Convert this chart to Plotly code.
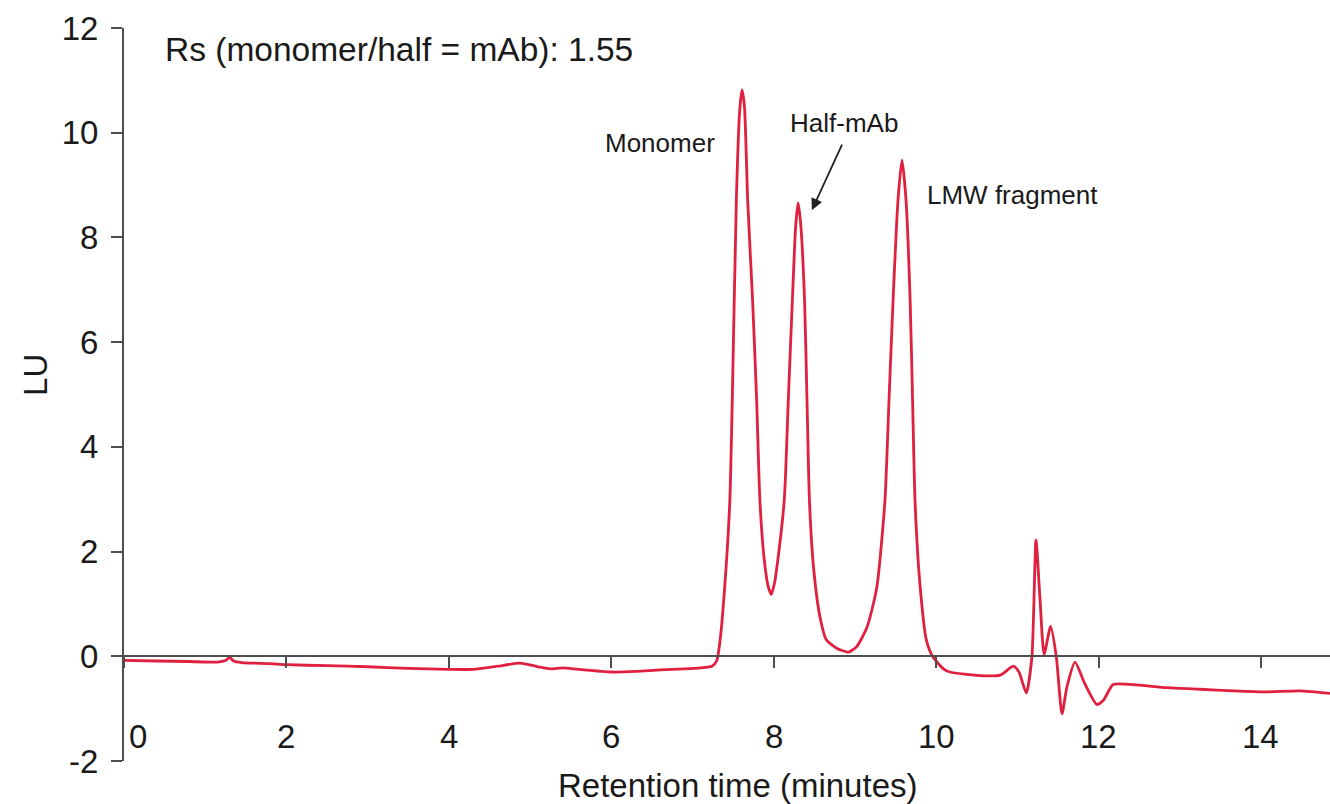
import plotly.graph_objects as go

# Chromatogram trace (retention time in minutes, signal in LU)
time_min = [0.00, 0.40, 0.80, 1.15, 1.25, 1.30, 1.35, 1.45, 1.80, 2.00, 2.50, 3.00, 3.50,
            4.00, 4.30, 4.60, 4.88, 5.10, 5.25, 5.40, 5.60, 6.00, 6.30, 6.60, 6.90, 7.10,
            7.24, 7.30, 7.34, 7.40, 7.46, 7.49, 7.54, 7.58, 7.61, 7.64, 7.68, 7.74, 7.79,
            7.83, 7.88, 7.93, 7.97, 8.01, 8.04, 8.13, 8.18, 8.23, 8.27, 8.30, 8.33, 8.38,
            8.41, 8.44, 8.49, 8.57, 8.65, 8.78, 8.92, 9.02, 9.15, 9.27, 9.37, 9.42, 9.47,
            9.53, 9.58, 9.63, 9.68, 9.71, 9.74, 9.80, 9.88, 9.96, 10.09, 10.17, 10.54,
            10.79, 10.95, 11.02, 11.11, 11.18, 11.23, 11.28, 11.33, 11.41, 11.48, 11.55,
            11.61, 11.71, 11.83, 11.98, 12.06, 12.18, 12.43, 12.84, 13.25, 13.66, 14.07,
            14.48, 14.85]
signal_lu = [-0.08, -0.09, -0.10, -0.11, -0.08, -0.02, -0.09, -0.12, -0.14, -0.16, -0.18,
             -0.20, -0.23, -0.25, -0.25, -0.19, -0.13, -0.20, -0.24, -0.22, -0.25, -0.30,
             -0.29, -0.26, -0.24, -0.22, -0.19, -0.08, 0.31, 1.39, 2.98, 4.9, 8.7, 10.4,
             10.82, 10.5, 8.7, 6.8, 4.9, 2.98, 1.9, 1.35, 1.18, 1.4, 1.71, 2.98, 4.9, 6.8,
             8.2, 8.66, 8.3, 6.8, 4.9, 2.98, 1.71, 0.75, 0.31, 0.15, 0.08, 0.18, 0.56, 1.32,
             2.98, 4.9, 6.8, 8.7, 9.48, 8.7, 6.8, 4.9, 2.98, 1.39, 0.31, -0.01, -0.24, -0.30,
             -0.37, -0.36, -0.19, -0.30, -0.70, 0.0, 2.22, 1.07, 0.04, 0.57, -0.01, -1.10,
             -0.59, -0.11, -0.52, -0.92, -0.84, -0.54, -0.54, -0.60, -0.63, -0.66, -0.68,
             -0.66, -0.71]

x_ticks = [0, 2, 4, 6, 8, 10, 12, 14]
y_ticks = [-2, 0, 2, 4, 6, 8, 10, 12]
y_tick_labels = ["-2", "0", "2", "4", "6", "8", "10", "12"]
x_range = [0, 14.85]
y_range = [-2, 12]

FONT = "Liberation Sans, Arial, sans-serif"
AXIS_COLOR = "#4d4d4d"
TEXT_COLOR = "#1a1a1a"
LINE_COLOR = "#e0203f"

fig = go.Figure()
fig.add_trace(go.Scatter(
    x=time_min, y=signal_lu, mode="lines",
    line=dict(color=LINE_COLOR, width=2.8, shape="spline", smoothing=0.6),
    hoverinfo="skip", showlegend=False,
))

x_axis_pos = (0 - y_range[0]) / (y_range[1] - y_range[0])

fig.update_layout(
    width=1330, height=804,
    margin=dict(l=124, r=0, t=28, b=43),
    paper_bgcolor="white", plot_bgcolor="white",
    font=dict(family=FONT, color=TEXT_COLOR),
    showlegend=False,
    xaxis=dict(
        range=x_range, anchor="free", position=x_axis_pos,
        showline=True, linecolor=AXIS_COLOR, linewidth=2,
        ticks="outside", tickvals=x_ticks, ticklen=11, tickwidth=2, tickcolor=AXIS_COLOR,
        showticklabels=False, showgrid=False, zeroline=False,
    ),
    yaxis=dict(
        range=y_range,
        showline=True, linecolor=AXIS_COLOR, linewidth=2,
        ticks="outside", tickvals=y_ticks, ticktext=y_tick_labels,
        ticklen=11, tickwidth=2, tickcolor=AXIS_COLOR,
        tickfont=dict(size=33, family=FONT, color=TEXT_COLOR),
        ticklabelstandoff=6,
        showgrid=False, zeroline=False,
    ),
)

annotations = []
for v in x_ticks:
    annotations.append(dict(
        x=v, y=0, xref="x", yref="paper", text=str(v), showarrow=False,
        xanchor="center", yanchor="middle", yshift=25, xshift=14 if v == 0 else 0,
        font=dict(size=33, family=FONT, color=TEXT_COLOR),
    ))

annotations += [
    dict(x=0.48, y=11.58, xref="x", yref="y", text="Rs (monomer/half = mAb): 1.55",
         showarrow=False, xanchor="left", yanchor="middle",
         font=dict(size=33.5, family=FONT, color=TEXT_COLOR)),
    dict(x=6.60, y=9.80, xref="x", yref="y", text="Monomer", showarrow=False,
         xanchor="center", yanchor="middle", font=dict(size=26, family=FONT, color=TEXT_COLOR)),
    dict(x=8.87, y=10.19, xref="x", yref="y", text="Half-mAb", showarrow=False,
         xanchor="center", yanchor="middle", font=dict(size=26, family=FONT, color=TEXT_COLOR)),
    dict(x=9.86, y=8.81, xref="x", yref="y", text="LMW fragment", showarrow=False,
         xanchor="left", yanchor="middle", font=dict(size=26, family=FONT, color=TEXT_COLOR)),
    dict(x=8.47, y=8.52, xref="x", yref="y", ax=8.85, ay=9.80, axref="x", ayref="y",
         text="", showarrow=True, arrowhead=2, arrowsize=1.3, arrowwidth=1.8,
         arrowcolor="#222222"),
    dict(x=7.55, y=0, xref="x", yref="paper", text="Retention time (minutes)",
         showarrow=False, xanchor="center", yanchor="middle", yshift=-24,
         font=dict(size=33, family=FONT, color=TEXT_COLOR)),
    dict(x=-0.074, y=5.37, xref="paper", yref="y", text="LU", textangle=-90,
         showarrow=False, xanchor="center", yanchor="middle",
         font=dict(size=33, family=FONT, color=TEXT_COLOR)),
]
fig.update_layout(annotations=annotations)

fig.write_html("out.html")
